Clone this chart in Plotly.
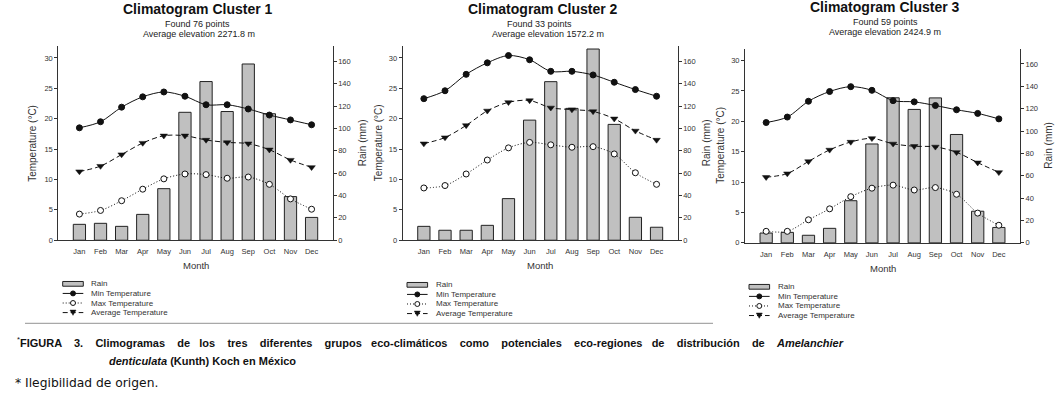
import plotly.graph_objects as go

W, H = 1058, 394

# ---------------- data ----------------
months = ["Jan", "Feb", "Mar", "Apr", "May", "Jun", "Jul", "Aug", "Sep", "Oct", "Nov", "Dec"]
temp_ticks = [0, 5, 10, 15, 20, 25, 30]
rain_ticks = [0, 20, 40, 60, 80, 100, 120, 140, 160]

titles = ["Climatogram Cluster 1", "Climatogram Cluster 2", "Climatogram Cluster 3"]
points_text = ["Found 76 points", "Found 33 points", "Found 59 points"]
elev_text = ["Average elevation 2271.8 m", "Average elevation 1572.2 m", "Average elevation 2424.9 m"]
legend_labels = ["Rain", "Min Temperature", "Max Temperature", "Average Temperature"]

c1_rain = [14.2, 15.1, 12.4, 23.1, 46.1, 114.4, 141.9, 115.1, 157.6, 113.1, 39.0, 20.4]
c1_min = [18.5, 19.5, 21.9, 23.6, 24.4, 23.7, 22.3, 22.3, 21.6, 20.6, 19.8, 19.0]
c1_max = [4.3, 4.9, 6.5, 8.4, 10.1, 10.9, 10.8, 10.2, 10.4, 9.2, 6.8, 5.1]
c1_avg = [11.3, 12.2, 14.1, 16.0, 17.2, 17.2, 16.5, 16.1, 15.9, 14.9, 13.2, 12.0]

c2_rain = [12.4, 8.9, 8.9, 13.3, 37.2, 107.4, 141.8, 117.9, 171.0, 103.6, 20.5, 11.6]
c2_min = [23.3, 24.6, 27.3, 29.2, 30.4, 29.7, 27.8, 27.8, 27.2, 26.0, 24.8, 23.7]
c2_max = [8.6, 9.0, 10.9, 13.2, 15.2, 16.1, 15.7, 15.3, 15.4, 14.2, 11.1, 9.2]
c2_avg = [15.9, 16.9, 18.9, 21.3, 22.7, 23.0, 21.8, 21.5, 21.2, 20.0, 18.0, 16.5]

c3_rain = [8.8, 9.4, 6.8, 13.0, 37.7, 88.4, 129.7, 119.3, 129.6, 96.9, 28.3, 13.8]
c3_min = [19.8, 20.7, 23.3, 24.9, 25.7, 25.1, 23.4, 23.2, 22.6, 21.9, 21.3, 20.4]
c3_max = [1.9, 1.9, 3.8, 5.6, 7.6, 9.0, 9.5, 8.7, 9.1, 8.0, 4.9, 2.9]
c3_avg = [10.8, 11.4, 13.4, 15.3, 16.6, 17.2, 16.3, 15.9, 15.8, 14.9, 13.2, 11.6]

caption_words = ["FIGURA", "3.", "Climogramas", "de", "los", "tres", "diferentes", "grupos",
                 "eco-climáticos", "como", "potenciales", "eco-regiones", "de", "distribución", "de"]
caption_species = "Amelanchier"
caption_line2 = "<i>denticulata</i> (Kunth) Koch en México"
footnote = "* Ilegibilidad de origen."

series = [
    (c1_rain, c1_min, c1_max, c1_avg),
    (c2_rain, c2_min, c2_max, c2_avg),
    (c3_rain, c3_min, c3_max, c3_avg),
]

# ---------------- layout geometry (pixels) ----------------
panels = [
    dict(x0=58.3, x1=332.7, top=46.7, bot=243.3, tx=198, ty=9.3, fx=197, fy=24.3, ex=199, ey=34.3,
         tempx=31.7, rainx=362, monthy=269.0, legx=62.7, legy=287.5),
    dict(x0=402.7, x1=677.7, top=46.7, bot=243.3, tx=542.5, ty=9.3, fx=539, fy=24.3, ex=548, ey=34.3,
         tempx=378, rainx=706, monthy=269.0, legx=407, legy=288.5),
    dict(x0=745.0, x1=1020.0, top=49.3, bot=246.0, tx=885, ty=7.3, fx=885, fy=22.7, ex=885, ey=32.3,
         tempx=721, rainx=1049, monthy=271.5, legx=749, legy=290.5),
]

TEMP_RANGE = [0, 31.95]
RAIN_RANGE = [0, 173.6]

FONT = "Liberation Sans, Arial, sans-serif"
AX = "#333333"
INK = "#111111"


def px(x):
    return x / W


def py(y):
    return 1 - y / H


fig = go.Figure()
layout = dict(
    width=W, height=H, margin=dict(l=0, r=0, t=0, b=0),
    paper_bgcolor="white", plot_bgcolor="white", showlegend=False,
    font=dict(family=FONT, color=AX),
)
annotations = []
shapes = []

for i, (p, (rain, tmin, tmax, tavg)) in enumerate(zip(panels, series)):
    n = i + 1
    xa = "x" if n == 1 else f"x{n}"
    yr = f"y{2 * n - 1}" if n > 1 else "y"
    yt = f"y{2 * n}"
    xkey = "xaxis" if n == 1 else f"xaxis{n}"
    yrkey = "yaxis" if n == 1 else f"yaxis{2 * n - 1}"
    ytkey = f"yaxis{2 * n}"

    layout[xkey] = dict(
        domain=[px(p["x0"]), px(p["x1"])], anchor=yr, type="category",
        categoryorder="array", categoryarray=months, range=[-1, 12],
        showline=True, linecolor=AX, linewidth=1, ticks="", showgrid=False,
        tickfont=dict(size=7.5, color=AX), zeroline=False, fixedrange=True,
        ticklabelstandoff=4,
    )
    layout[yrkey] = dict(
        domain=[py(p["bot"]), py(p["top"])], anchor=xa, side="right",
        range=RAIN_RANGE, tickvals=rain_ticks, showline=True, linecolor=AX, linewidth=1,
        ticks="outside", ticklen=3, tickcolor=AX, showgrid=False, zeroline=False,
        tickfont=dict(size=7.5, color=AX),
    )
    layout[ytkey] = dict(
        overlaying=yr, anchor=xa, side="left",
        range=TEMP_RANGE, tickvals=temp_ticks, showline=True, linecolor=AX, linewidth=1,
        ticks="outside", ticklen=3, tickcolor=AX, showgrid=False, zeroline=False,
        tickfont=dict(size=7.5, color=AX),
    )

    fig.add_trace(go.Bar(
        x=months, y=rain, xaxis=xa, yaxis=yr, width=0.58,
        marker=dict(color="#c0c0c0", line=dict(color="#222222", width=1)),
        name=legend_labels[0],
    ))
    fig.add_trace(go.Scatter(
        x=months, y=tmin, xaxis=xa, yaxis=yt, mode="lines+markers",
        line=dict(color=INK, width=1, shape="spline", smoothing=0.9),
        marker=dict(symbol="circle", size=6, color=INK, line=dict(color=INK, width=1)),
        name=legend_labels[1],
    ))
    fig.add_trace(go.Scatter(
        x=months, y=tmax, xaxis=xa, yaxis=yt, mode="lines+markers",
        line=dict(color=INK, width=1, shape="spline", smoothing=0.9, dash="1px,2px"),
        marker=dict(symbol="circle", size=6, color="white", line=dict(color=INK, width=1)),
        name=legend_labels[2],
    ))
    fig.add_trace(go.Scatter(
        x=months, y=tavg, xaxis=xa, yaxis=yt, mode="lines+markers",
        line=dict(color=INK, width=1, shape="spline", smoothing=0.9, dash="5px,3px"),
        marker=dict(symbol="triangle-down", size=6.5, color=INK, line=dict(color=INK, width=0.5)),
        name=legend_labels[3],
    ))

    # titles
    annotations.append(dict(text=f"<b>{titles[i]}</b>", x=px(p["tx"]), y=py(p["ty"]), xref="paper", yref="paper",
                            showarrow=False, xanchor="center", yanchor="middle",
                            font=dict(size=14, color="#111111", family=FONT)))
    annotations.append(dict(text=points_text[i], x=px(p["fx"]), y=py(p["fy"]), xref="paper", yref="paper",
                            showarrow=False, xanchor="center", yanchor="middle",
                            font=dict(size=9, color="#222222", family=FONT)))
    annotations.append(dict(text=elev_text[i], x=px(p["ex"]), y=py(p["ey"]), xref="paper", yref="paper",
                            showarrow=False, xanchor="center", yanchor="middle",
                            font=dict(size=9, color="#222222", family=FONT)))
    # axis titles
    mid = (p["top"] + p["bot"]) / 2
    annotations.append(dict(text="Temperature (°C)", x=px(p["tempx"]), y=py(mid), xref="paper", yref="paper",
                            showarrow=False, textangle=-90, xanchor="center", yanchor="middle",
                            font=dict(size=10, color=AX, family=FONT)))
    annotations.append(dict(text="Rain (mm)", x=px(p["rainx"]), y=py(mid), xref="paper", yref="paper",
                            showarrow=False, textangle=-90, xanchor="center", yanchor="middle",
                            font=dict(size=10, color=AX, family=FONT)))
    annotations.append(dict(text="Month", x=px((p["x0"] + p["x1"]) / 2), y=py(p["monthy"]), xref="paper", yref="paper",
                            showarrow=False, xanchor="center", yanchor="middle",
                            font=dict(size=9.5, color=AX, family=FONT)))

    # manual legend
    lx, ly = p["legx"], p["legy"]
    row = 9.7
    sw = 20.6
    cx = lx + sw / 2
    tx = lx + 26.5
    shapes.append(dict(type="rect", xref="paper", yref="paper",
                       x0=px(lx), x1=px(lx + sw), y0=py(ly + 2.4), y1=py(ly - 2.4),
                       fillcolor="#c0c0c0", line=dict(color="#222222", width=1)))
    dashes = ["solid", "1px,2px", "5px,3px"]
    for k in range(3):
        yy = ly + row * (k + 1)
        shapes.append(dict(type="line", xref="paper", yref="paper",
                           x0=px(lx), x1=px(lx + sw), y0=py(yy), y1=py(yy),
                           line=dict(color=INK, width=1, dash=dashes[k])))
    r = 2.5
    y1 = ly + row
    shapes.append(dict(type="circle", xref="paper", yref="paper",
                       x0=px(cx - r), x1=px(cx + r), y0=py(y1 + r), y1=py(y1 - r),
                       fillcolor=INK, line=dict(color=INK, width=1)))
    y2 = ly + 2 * row
    shapes.append(dict(type="circle", xref="paper", yref="paper",
                       x0=px(cx - r), x1=px(cx + r), y0=py(y2 + r), y1=py(y2 - r),
                       fillcolor="white", line=dict(color=INK, width=1)))
    y3 = ly + 3 * row
    tri = f"M {px(cx - 3)} {py(y3 - 2.5)} L {px(cx + 3)} {py(y3 - 2.5)} L {px(cx)} {py(y3 + 2.8)} Z"
    shapes.append(dict(type="path", xref="paper", yref="paper", path=tri,
                       fillcolor=INK, line=dict(color=INK, width=0.5)))
    for k, lab in enumerate(legend_labels):
        annotations.append(dict(text=lab, x=px(tx), y=py(ly + row * k), xref="paper", yref="paper",
                                showarrow=False, xanchor="left", yanchor="middle",
                                font=dict(size=8, color=AX, family=FONT)))

# separator line and caption (first line justified with extra spacing)
shapes.append(dict(type="line", xref="paper", yref="paper", x0=px(25), x1=px(713), y0=py(327.5), y1=py(327.5),
                   line=dict(color="#a8a8a8", width=1.2)))
gaps = []
for k in range(len(caption_words)):
    gaps.append(" " + "\u00a0" * (2 if k % 4 == 3 else 3))
line1 = "".join(w + g for w, g in zip(caption_words, gaps))
annotations.append(dict(
    text="<sup>*</sup><b>" + line1 + "<i>" + caption_species + "</i></b>",
    x=px(15), y=py(346), xref="paper", yref="paper", showarrow=False, xanchor="left", yanchor="middle",
    font=dict(size=11, color="#111111", family=FONT)))
annotations.append(dict(
    text="<b>" + caption_line2 + "</b>",
    x=px(107), y=py(365.5), xref="paper", yref="paper", showarrow=False, xanchor="left", yanchor="middle",
    font=dict(size=11, color="#111111", family=FONT)))
annotations.append(dict(
    text=footnote,
    x=px(13), y=py(388), xref="paper", yref="paper", showarrow=False, xanchor="left", yanchor="middle",
    font=dict(size=12.3, color="#111111", family="DejaVu Sans, Verdana, sans-serif")))

layout["annotations"] = annotations
layout["shapes"] = shapes
fig.update_layout(**layout)

fig.write_html("out.html", config={"displayModeBar": False},
               post_script="document.body.style.margin='0px';document.body.style.padding='0px';")
